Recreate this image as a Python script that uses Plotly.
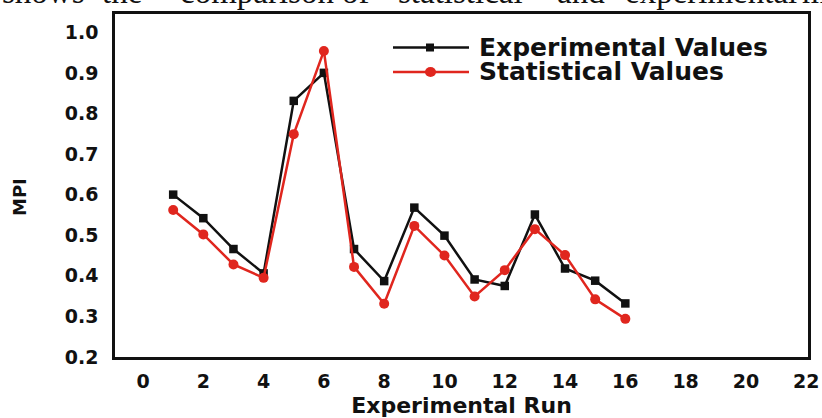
import plotly.graph_objects as go

# ---- data ----
runs = list(range(1, 17))
experimental = [0.600, 0.542, 0.466, 0.406, 0.831, 0.900, 0.466, 0.387,
                0.568, 0.499, 0.391, 0.375, 0.551, 0.418, 0.388, 0.332]
statistical = [0.562, 0.502, 0.428, 0.395, 0.749, 0.954, 0.422, 0.331,
               0.523, 0.450, 0.349, 0.414, 0.515, 0.451, 0.342, 0.294]
x_ticks = list(range(0, 23, 2))
y_ticks = [0.2, 0.3, 0.4, 0.5, 0.6, 0.7, 0.8, 0.9, 1.0]
series_names = ["Experimental Values", "Statistical Values"]
x_title = "Experimental Run"
y_title = "MPI"
caption_words = ["shows", "the", "comparison", "of", "statistical", "and", "experimental", "mode"]

# ---- layout geometry ----
# body margin is removed below, so figure pixels == window pixels
W, H = 822, 418
BOX_L, BOX_R, BOX_T, BOX_B = 115, 808, 14, 357
PW = BOX_R - BOX_L
PH = BOX_B - BOX_T
L = BOX_L
T = BOX_T
R = W - L - PW
B = H - T - PH

def px(xwin):
    return (xwin - BOX_L) / PW

def py(ywin):
    return 1 - (ywin - BOX_T) / PH

BLACK = "#111111"
RED = "#e0261e"
BOLD = "DejaVu Sans"

fig = go.Figure()
fig.add_trace(go.Scatter(
    x=runs, y=experimental, mode="lines+markers", name=series_names[0],
    line=dict(color=BLACK, width=2.5),
    marker=dict(symbol="square", size=8.5, color=BLACK),
    showlegend=False,
))
fig.add_trace(go.Scatter(
    x=runs, y=statistical, mode="lines+markers", name=series_names[1],
    line=dict(color=RED, width=2.5),
    marker=dict(symbol="circle", size=10, color=RED),
    showlegend=False,
))

axis_common = dict(
    showline=True, mirror=True, linecolor=BLACK, linewidth=2.5,
    showgrid=False, zeroline=False, ticks="", automargin=False,
    tickfont=dict(family=BOLD, size=19, color=BLACK, weight="bold"),
)
fig.update_xaxes(range=[-0.93, 22.06], tickvals=x_ticks, ticklabelstandoff=5,
                 title=dict(text=x_title, font=dict(family=BOLD, size=22, color=BLACK, weight="bold"),
                            standoff=12),
                 **axis_common)
fig.update_yaxes(range=[0.2, 1.045], tickvals=y_ticks, tickformat=".1f", ticklabelstandoff=10,
                 **axis_common)

annotations = []
# y-axis title
annotations.append(dict(
    text=y_title, textangle=-90, xref="paper", yref="paper",
    x=px(19), y=py(197), xanchor="center", yanchor="middle", showarrow=False,
    font=dict(family=BOLD, size=18, color=BLACK, weight="bold"),
))
# custom legend
leg_rows = [(47.5, BLACK, series_names[0]), (72, RED, series_names[1])]
shapes = []
for yy, col, name in leg_rows:
    shapes.append(dict(type="line", xref="paper", yref="paper",
                       x0=px(393), x1=px(469), y0=py(yy), y1=py(yy),
                       line=dict(color=col, width=2.5)))
    annotations.append(dict(text=name, xref="paper", yref="paper", x=px(477), y=py(yy),
                            xanchor="left", yanchor="middle", showarrow=False,
                            font=dict(family=BOLD, size=25, color=BLACK, weight="bold")))
shapes.append(dict(type="rect", xref="paper", yref="paper",
                   x0=px(426), x1=px(434), y0=py(51.5), y1=py(43.5),
                   fillcolor=BLACK, line=dict(width=0)))
shapes.append(dict(type="circle", xref="paper", yref="paper",
                   x0=px(425), x1=px(436), y0=py(77), y1=py(67),
                   fillcolor=RED, line=dict(width=0)))

# cropped caption line at the very top
word_left = [0, 100, 178, 340, 396, 555, 623, 800]
for w, xl in zip(caption_words, word_left):
    annotations.append(dict(text=w, xref="paper", yref="paper", x=px(xl), y=1,
                            xanchor="left", yanchor="bottom", showarrow=False, yshift=2,
                            font=dict(family="Liberation Serif", size=33, color="#111111")))

fig.update_layout(
    width=W, height=H, margin=dict(l=L, r=R, t=T, b=B),
    paper_bgcolor="white", plot_bgcolor="white",
    annotations=annotations, shapes=shapes,
)

fig.write_html("out.html", config={"displayModeBar": False},
               post_script="document.body.style.margin='0px';")
